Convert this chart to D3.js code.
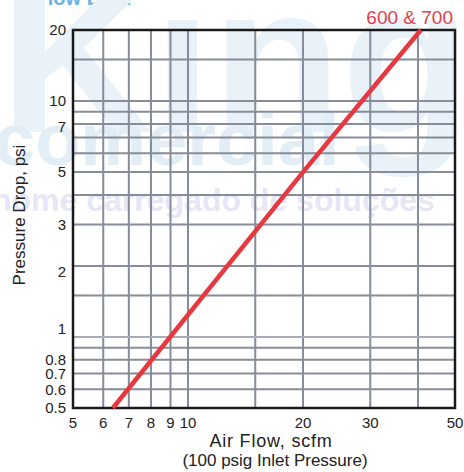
<!DOCTYPE html>
<html>
<head>
<meta charset="utf-8">
<script src="https://cdn.jsdelivr.net/npm/d3@7/dist/d3.min.js"></script>
<style>
  html, body { margin: 0; padding: 0; background: #ffffff; }
  svg { display: block; }
  text { font-family: "Liberation Sans", Arial, Helvetica, sans-serif; }
</style>
</head>
<body>
<svg id="chart" width="464" height="472"></svg>
<script>
// ---- data ----
const seriesName = "600 & 700";
const airFlow = [6.36, 20, 40.7];        // scfm
const pressureDrop = [0.5, 5, 20];       // psi
const xGridValues = [6, 7, 8, 9, 10, 15, 20, 30, 40];
const yGridValues = [0.6, 0.7, 0.8, 0.9, 1, 1.5, 2, 3, 4, 5, 6, 7, 8, 9, 10, 15];
const xTickValues = [5, 6, 7, 8, 9, 10, 20, 30, 50];
const xTickLabels = ["5", "6", "7", "8", "9", "10", "20", "30", "50"];
const yTickValues = [0.5, 0.6, 0.7, 0.8, 1.08, 1.9, 3, 5, 7.78, 10, 20];
const yTickLabels = ["0.5", "0.6", "0.7", "0.8", "1", "2", "3", "5", "7", "10", "20"];
const xTitle = ["Air Flow, scfm", "(100 psig Inlet Pressure)"];
const yTitle = "Pressure Drop, psi";

const svg = d3.select("#chart");
const L = 73, R = 455, T = 30, B = 408;

const x = d3.scaleLog().domain([5, 50]).range([L, R]);
const y = d3.scaleLog().domain([0.5, 20]).range([B, T]);

// ---- background watermark ----
const wm = svg.append("g");
wm.append("text").attr("x", 130).attr("y", 5).attr("text-anchor", "end")
  .attr("font-size", 20).attr("font-weight", "bold").attr("fill", "#6cb2e2")
  .text("Flow Data");
wm.append("text").attr("x", 0).attr("y", 132)
  .attr("font-size", 212).attr("font-weight", "bold").attr("fill", "#e9f2f9")
  .text("King");
wm.append("text").attr("x", -6).attr("y", 165)
  .attr("font-size", 74).attr("font-weight", "bold").attr("fill", "#e2edf6")
  .text("comercial");
wm.append("text").attr("x", -8).attr("y", 211)
  .attr("font-size", 32).attr("font-weight", "bold").attr("fill", "#e6e6f7")
  .text("nome carregado de soluções");

// ---- grid ----
const grid = svg.append("g").attr("stroke", "#868c99").attr("stroke-width", 2);
grid.selectAll("line.v").data(xGridValues).join("line")
  .attr("class", "v")
  .attr("x1", d => x(d)).attr("x2", d => x(d))
  .attr("y1", T).attr("y2", B);
grid.selectAll("line.h").data(yGridValues).join("line")
  .attr("class", "h")
  .attr("x1", L).attr("x2", R)
  .attr("y1", d => y(d)).attr("y2", d => y(d))
  .attr("stroke", d => d === 1 ? "#a7adb8" : null);

// ---- frame ----
svg.append("rect").attr("x", L).attr("y", T).attr("width", R - L).attr("height", B - T)
  .attr("fill", "none").attr("stroke", "#1a1a1a").attr("stroke-width", 2.5);

// ---- series line ----
const pts = airFlow.map((v, i) => [v, pressureDrop[i]]);
svg.append("path").datum(pts)
  .attr("fill", "none").attr("stroke", "#e8383f").attr("stroke-width", 4.5)
  .attr("d", d3.line().x(d => x(d[0])).y(d => y(d[1])));

svg.append("text").attr("x", 453).attr("y", 24).attr("text-anchor", "end")
  .attr("font-size", 19).attr("fill", "#e4404a").text(seriesName);

// ---- tick labels ----
svg.append("g").selectAll("text").data(xTickValues).join("text")
  .attr("x", d => x(d)).attr("y", 428).attr("text-anchor", "middle")
  .attr("font-size", 15).attr("fill", "#222")
  .text((d, i) => xTickLabels[i]);
svg.append("g").selectAll("text").data(yTickValues).join("text")
  .attr("x", 66).attr("y", d => y(d)).attr("dy", "0.36em").attr("text-anchor", "end")
  .attr("font-size", 15).attr("fill", "#222")
  .text((d, i) => yTickLabels[i]);

// ---- titles ----
svg.append("text").attr("x", 271).attr("y", 447).attr("text-anchor", "middle")
  .attr("font-size", 18).attr("letter-spacing", 0.8).attr("fill", "#222")
  .text(xTitle[0]);
svg.append("text").attr("x", 275).attr("y", 466).attr("text-anchor", "middle")
  .attr("font-size", 17).attr("fill", "#222")
  .text(xTitle[1]);
svg.append("text").attr("transform", "translate(25,215) rotate(-90)")
  .attr("text-anchor", "middle").attr("font-size", 17).attr("fill", "#222")
  .text(yTitle);
</script>
</body>
</html>
